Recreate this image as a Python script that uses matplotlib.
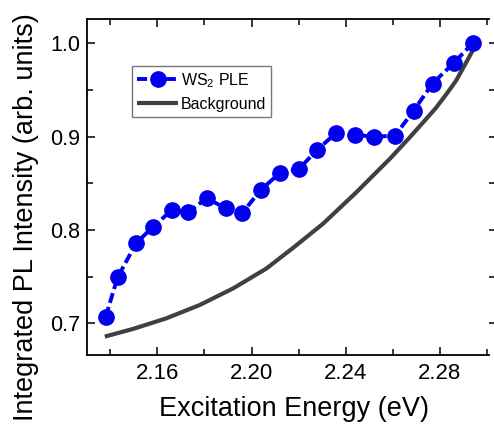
import matplotlib
matplotlib.use("Agg")
import matplotlib.pyplot as plt
from matplotlib.ticker import MultipleLocator

plt.rcParams['font.family'] = ['Liberation Sans', 'DejaVu Sans']
plt.rcParams['mathtext.fontset'] = 'custom'
plt.rcParams['mathtext.rm'] = 'Liberation Sans'

# PLE data
energy = [2.138, 2.143, 2.151, 2.158, 2.166, 2.173, 2.181, 2.189, 2.196, 2.204, 2.212,
          2.220, 2.228, 2.236, 2.244, 2.252, 2.261, 2.269, 2.277, 2.286, 2.294]
ple = [0.707, 0.749, 0.786, 0.803, 0.821, 0.819, 0.834, 0.823, 0.818, 0.843, 0.861,
       0.865, 0.886, 0.904, 0.902, 0.900, 0.901, 0.928, 0.957, 0.979, 1.000]

# background curve
bg_energy = [2.1376, 2.1496, 2.1638, 2.1780, 2.1922, 2.2064, 2.2184, 2.2305, 2.2447,
             2.2589, 2.2674, 2.2737, 2.2785, 2.2830, 2.2870, 2.2901, 2.2940]
bg_int = [0.6856, 0.6938, 0.7052, 0.7195, 0.7373, 0.7587, 0.7822, 0.8068, 0.8406,
          0.8764, 0.8995, 0.9173, 0.9310, 0.9460, 0.9600, 0.9740, 0.9920]

xticks = [2.16, 2.20, 2.24, 2.28]
yticks = [0.7, 0.8, 0.9, 1.0]

fig = plt.figure(figsize=(4.94, 4.26), dpi=100)
ax = fig.add_axes([0.176, 0.167, 0.8138, 0.788])

ax.plot(bg_energy, bg_int, color='#404040', lw=3.0, label='Background', zorder=2,
        solid_capstyle='butt')
ax.plot(energy, ple, color='#0000ee', lw=2.8, ls=(0, (2.6, 1.1)), marker='o',
        markersize=11, markeredgecolor='#0000ee', label=r'WS$_{\mathrm{2}}$ PLE', zorder=3)

ax.set_xlim(2.13, 2.301)
ax.set_ylim(0.666, 1.026)
ax.set_xticks(xticks)
ax.set_xticklabels(['%.2f' % v for v in xticks])
ax.set_yticks(yticks)
ax.set_yticklabels(['%.1f' % v for v in yticks])
ax.xaxis.set_minor_locator(MultipleLocator(0.02))
ax.yaxis.set_minor_locator(MultipleLocator(0.05))

ax.tick_params(which='both', direction='in', top=True, width=1.1)
ax.tick_params(axis='x', labelsize=16, pad=6)
ax.tick_params(axis='y', labelsize=15.5, pad=5)
ax.tick_params(which='major', length=6)
ax.tick_params(which='minor', length=4)
ax.tick_params(axis='y', which='both', right=True)
for s in ax.spines.values():
    s.set_linewidth(1.3)
ax.spines['right'].set_visible(False)
# right side ticks stick out past the (cropped) frame
for t in ax.yaxis.get_major_ticks() + ax.yaxis.get_minor_ticks():
    t.tick2line.set_marker(matplotlib.lines.TICKRIGHT)
    t.tick2line.set_markersize(4)
    t.tick2line.set_color('#333333')

ax.set_xlabel('Excitation Energy (eV)', fontsize=19.5)
ax.set_ylabel('Integrated PL Intensity (arb. units)', fontsize=19.5)
ax.xaxis.set_label_coords(0.516, -0.122)
ax.yaxis.set_label_coords(-0.12, 0.41)

handles, labels = ax.get_legend_handles_labels()
leg = ax.legend(handles[::-1], labels[::-1], loc='upper left',
                bbox_to_anchor=(0.112, 0.86), fontsize=11.5, frameon=True,
                fancybox=False, edgecolor='#555555', handlelength=2.6,
                handletextpad=0.15, borderpad=0.3, labelspacing=0.45,
                borderaxespad=0)
leg.get_frame().set_linewidth(1.0)

fig.savefig('out.png', dpi=100)
